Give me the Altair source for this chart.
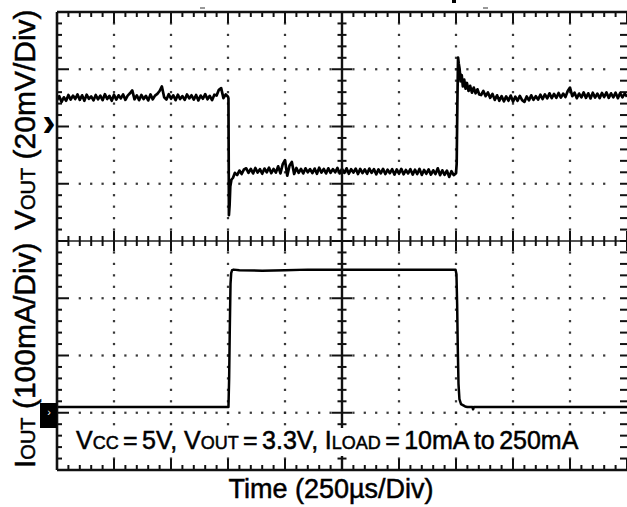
import altair as alt
import pandas as pd

# ---------------- scope settings ----------------
T_DIV_US = 250      # time per division
V_DIV_MV = 20       # Vout per division
I_DIV_MA = 100      # Iout per division
N_XDIV, N_YDIV = 10, 8
VOUT_REF_DIV = 6    # Vout channel marker (division from bottom)
IOUT_REF_DIV = 1    # Iout channel marker (division from bottom)

# ---------------- Vout trace (mV relative to channel marker) ----------------
vout_pre_start, vout_pre_step = 0, 10
vout_pre = [9.2, 10.6, 8.6, 10.2, 9.0, 11.0, 9.4, 10.8, 9.6, 11.2,
            9.3, 10.9, 9.0, 11.1, 9.7, 10.5, 9.1, 11.0, 9.5, 10.8,
            9.2, 11.3, 9.6, 10.7, 9.0, 11.1, 9.4, 10.9, 9.8, 11.2,
            9.3, 10.8, 11.6, 12.6, 9.5, 10.9, 9.2, 11.0, 9.6, 10.7,
            9.1, 11.2, 9.5, 10.8, 11.4, 12.4, 14.0, 10.2, 9.4, 11.3,
            9.7, 10.9, 9.2, 11.1, 9.6, 10.6, 9.3, 11.2, 9.8, 10.9,
            9.4, 11.0, 9.1, 10.8, 9.7, 11.3, 9.5, 10.7, 9.2, 11.1,
            10.8, 12.8, 13.4, 9.9, 11.2, 10.4]
vout_fall_t = [752, 754, 757, 760, 765, 772, 780, 790, 800, 810, 820]
vout_fall_mv = [9.8, -31.0, -27.5, -21.0, -18.6, -17.9, -16.2, -17.0, -15.4, -16.6, -15.0]
vout_mid_start, vout_mid_step = 830, 10
vout_mid = [-14.6, -16.2, -14.8, -16.4, -14.5, -16.1, -14.9, -16.5, -14.7, -16.0,
            -14.4, -16.3, -14.8, -16.1, -13.9, -16.4, -13.2, -11.8, -17.2, -13.6,
            -12.4, -16.6, -14.5, -16.2, -14.8, -16.4, -14.6, -16.0, -14.9, -16.3,
            -14.7, -16.5, -14.4, -16.1, -14.8, -16.4, -14.6, -16.2, -14.9, -16.0,
            -14.5, -16.4, -14.8, -16.2, -14.6, -16.5, -14.9, -16.1, -14.7, -16.6,
            -14.8, -16.3, -15.0, -16.5, -14.7, -16.2, -14.9, -16.7, -15.0, -16.4,
            -14.8, -16.6, -15.1, -16.3, -14.9, -16.8, -15.0, -16.5, -14.8, -16.7,
            -15.2, -16.4, -14.9, -16.8, -15.1, -16.6, -14.8, -16.9, -15.2, -16.5,
            -15.0, -16.8, -15.3, -16.6, -14.6, -17.0, -15.3, -16.9, -15.4, -17.6,
            -15.6, -17.0]
vout_rise_t = [1750, 1753, 1756, 1759, 1762, 1766, 1770, 1775, 1780, 1786,
               1792, 1798, 1805, 1812, 1820, 1828, 1836, 1844, 1852]
vout_rise_mv = [-16.3, -13.0, 8.0, 24.1, 22.0, 20.0, 15.8, 18.0, 14.0, 16.4,
                13.2, 15.2, 12.4, 14.2, 11.8, 13.6, 11.6, 13.0, 11.2]
vout_post_start, vout_post_step = 1860, 10
vout_post = [11.0, 12.4, 10.6, 11.9, 10.0, 11.4, 9.3, 10.9, 9.0, 10.6,
             8.8, 10.5, 9.0, 10.8, 8.7, 10.4, 9.0, 10.7, 9.2, 8.6,
             10.5, 9.1, 10.9, 9.3, 10.6, 9.4, 11.1, 9.6, 11.2, 9.8,
             11.6, 9.9, 11.4, 10.0, 11.7, 10.1, 11.5, 10.3, 12.4, 13.6,
             10.6, 11.8, 9.9, 11.5, 10.2, 11.9, 10.0, 11.6, 9.8, 11.8,
             10.1, 11.5, 9.9, 11.7, 10.3, 11.9, 10.0, 11.6, 10.2, 11.8,
             9.9, 11.7, 10.2, 11.5, 10.4]

# ---------------- Iout trace (mA) ----------------
iout_t = [0, 752, 755, 758, 761, 764, 768, 775, 800, 900, 1000, 1100, 1400,
          1748, 1752, 1755, 1758, 1761, 1765, 1772, 1790, 1800, 1822, 1825, 1828, 2500]
iout_ma = [10, 10, 60, 150, 225, 244, 249, 250, 249, 248, 249, 250, 250,
           250, 242, 190, 110, 50, 24, 15, 11, 10, 10, 6, 10, 10]

# ---------------- build tables ----------------
def seg(start, step, vals):
    return [(start + i * step, v) for i, v in enumerate(vals)]

vrows = (seg(vout_pre_start, vout_pre_step, vout_pre)
         + list(zip(vout_fall_t, vout_fall_mv))
         + seg(vout_mid_start, vout_mid_step, vout_mid)
         + list(zip(vout_rise_t, vout_rise_mv))
         + seg(vout_post_start, vout_post_step, vout_post))
vout_df = pd.DataFrame(vrows, columns=["t", "mv"])
vout_df["order"] = range(len(vout_df))
iout_df = pd.DataFrame({"t": iout_t, "ma": iout_ma})
iout_df["order"] = range(len(iout_df))

W, H = 570, 458
PX_X = N_XDIV / W
PX_Y = N_YDIV / H

XS = alt.Scale(domain=[0, N_XDIV], nice=False, zero=False)
YS = alt.Scale(domain=[0, N_YDIV], nice=False, zero=False)

def X(f):
    return alt.X(f, type="quantitative", scale=XS, axis=None)

def Y(f):
    return alt.Y(f, type="quantitative", scale=YS, axis=None)

# graticule
minor_x = [round(i * 0.2, 1) for i in range(N_XDIV * 5 + 1)]
minor_y = [round(i * 0.2, 1) for i in range(N_YDIV * 5 + 1)]
dots = []
for gx in [1, 2, 3, 4, 6, 7, 8, 9]:
    for y in minor_y:
        if 0 < y < N_YDIV and y != 4:
            dots.append({"x": gx, "y": y})
for gy in [1, 2, 3, 5, 6, 7]:
    for x in minor_x:
        if 0.3 < x < N_XDIV - 0.3 and x != 5:
            dots.append({"x": x, "y": gy})
dots_df = pd.DataFrame(dots)

ticks = []
for x in minor_x:
    major = abs(x - round(x)) < 1e-6
    L = 11 if major else 5
    C = 10 if major else 5
    ticks.append({"x": x, "x2": x, "y": N_YDIV, "y2": N_YDIV - L * PX_Y})
    ticks.append({"x": x, "x2": x, "y": 0, "y2": L * PX_Y})
    ticks.append({"x": x, "x2": x, "y": 4 - C * PX_Y, "y2": 4 + C * PX_Y})
for y in minor_y:
    major = abs(y - round(y)) < 1e-6
    L = 12 if major else 5
    C = 10 if major else 4.5
    ticks.append({"x": 0, "x2": L * PX_X, "y": y, "y2": y})
    ticks.append({"x": N_XDIV, "x2": N_XDIV - 7 * PX_X, "y": y, "y2": y})
    ticks.append({"x": 5 - C * PX_X, "x2": 5 + C * PX_X, "y": y, "y2": y})
ticks_df = pd.DataFrame(ticks)

frame_df = pd.DataFrame([
    {"x": 0, "x2": 0, "y": 0, "y2": N_YDIV, "w": 2.6},
    {"x": 0, "x2": N_XDIV, "y": 0, "y2": 0, "w": 2.6},
    {"x": 0, "x2": N_XDIV, "y": N_YDIV, "y2": N_YDIV, "w": 2.6},
    {"x": 5, "x2": 5, "y": 0, "y2": N_YDIV, "w": 2.4},
])
hmid_df = pd.DataFrame([{"x": 0, "x2": N_XDIV, "y": 4, "y2": 4}])

dots_layer = alt.Chart(dots_df).mark_square(size=5, color="#222", opacity=0.9).encode(
    x=X("x"), y=Y("y"))
ticks_layer = alt.Chart(ticks_df).mark_rule(color="#111", strokeWidth=2).encode(
    x=X("x"), x2=alt.X2("x2"), y=Y("y"), y2=alt.Y2("y2"))
hmid_layer = alt.Chart(hmid_df).mark_rule(color="#555", strokeWidth=2).encode(
    x=X("x"), x2=alt.X2("x2"), y=Y("y"), y2=alt.Y2("y2"))
frame_layer = alt.Chart(frame_df).mark_rule(color="#111").encode(
    x=X("x"), x2=alt.X2("x2"), y=Y("y"), y2=alt.Y2("y2"),
    strokeWidth=alt.StrokeWidth("w:Q", scale=None))

vout_layer = alt.Chart(vout_df).transform_calculate(
    xd=f"datum.t / {T_DIV_US}", yd=f"{VOUT_REF_DIV} + datum.mv / {V_DIV_MV}"
).mark_line(color="#000", strokeWidth=2.7, strokeJoin="round").encode(
    x=X("xd"), y=Y("yd"), order="order:Q")
iout_layer = alt.Chart(iout_df).transform_calculate(
    xd=f"datum.t / {T_DIV_US}", yd=f"{IOUT_REF_DIV} + datum.ma / {I_DIV_MA}"
).mark_line(color="#000", strokeWidth=2.5, strokeJoin="round").encode(
    x=X("xd"), y=Y("yd"), order="order:Q")

# ---------------- text ----------------
FONT = "Liberation Sans"
AW = {' ': 278, '=': 584, ',': 278, '.': 278, '(': 333, ')': 333, '/': 278,
      '0': 556, '1': 556, '2': 556, '3': 556, '5': 556,
      'V': 667, 'C': 722, 'O': 778, 'U': 722, 'T': 611, 'I': 278, 'L': 556,
      'A': 667, 'D': 722, 'm': 833, 't': 278, 'o': 556, 'i': 222, 'v': 500,
      's': 500, 'e': 556, 'µ': 576}

def tw(s, size):
    return sum(AW.get(c, 556) for c in s) * size / 1000.0

OX, OY = 57, 12   # plot origin in page pixels
TXT = dict(font=FONT, color="#000", stroke="#000", strokeWidth=0.5)

def run_h(tokens, x0, ybase, gap):
    """tokens: list of (text, size, joined) - joined=True means no gap before."""
    layers = []
    x = x0
    for i, (s, size, joined) in enumerate(tokens):
        if i > 0 and not joined:
            x += gap
        layers.append(alt.Chart().mark_text(
            text=s, fontSize=size, align="left", baseline="alphabetic", **TXT
        ).encode(x=alt.value(x - OX), y=alt.value(ybase - OY)))
        x += tw(s, size)
    return layers

def run_v(pieces, xbase, y0):
    layers = []
    y = y0
    for txt, size in pieces:
        lead = len(txt) - len(txt.lstrip(' '))
        s = txt.strip(' ')
        py = y - tw(' ' * lead, size)
        layers.append(alt.Chart().mark_text(
            text=s, fontSize=size, angle=270, align="left", baseline="alphabetic", **TXT
        ).encode(x=alt.value(xbase - OX), y=alt.value(py - OY)))
        y -= tw(txt, size)
    return layers

BIG, SMALL = 25, 18
note_tokens = [("V", BIG, False), ("CC", SMALL, True), ("=", BIG, False), ("5V,", BIG, False),
               ("V", BIG, False), ("OUT", SMALL, True), ("=", BIG, False), ("3.3V,", BIG, False),
               ("I", BIG, False), ("LOAD", SMALL, True), ("=", BIG, False), ("10mA", BIG, False),
               ("to", BIG, False), ("250mA", BIG, False)]
note = run_h(note_tokens, 76, 449, 4.4)

note_bg = alt.Chart().mark_rect(color="#fff").encode(
    x=alt.value(67 - OX), x2=alt.value(588 - OX), y=alt.value(428 - OY), y2=alt.value(456 - OY))

LB, LS = 30, 20
vlab = run_v([("V", LB), ("OUT", LS), (" (20mV/Div)", LB)], 35, 230)
ilab = run_v([("I", LB), ("OUT", LS), (" (100mA/Div)", LB)], 35, 468)

xlab = alt.Chart().mark_text(
    text="Time (250µs/Div)", fontSize=27, align="center", baseline="alphabetic", **TXT
).encode(x=alt.value(331 - OX), y=alt.value(498 - OY))

# channel markers
iref_box = alt.Chart().mark_rect(color="#000").encode(
    x=alt.value(40 - OX), x2=alt.value(57 - OX), y=alt.value(403 - OY), y2=alt.value(428 - OY))
iref_arrow = alt.Chart().mark_text(text="›", fontSize=11, color="#fff", font=FONT,
                                   align="center", baseline="middle").encode(
    x=alt.value(49 - OX), y=alt.value(413 - OY))
vref_arrow = alt.Chart().mark_text(text="›", fontSize=40, fontWeight="bold", color="#000",
                                   font=FONT, align="center", baseline="middle").encode(
    x=alt.value(49 - OX), y=alt.value(124 - OY))
trig = alt.Chart().mark_rect(color="#000").encode(
    x=alt.value(452 - OX), x2=alt.value(456 - OX), y=alt.value(0 - OY), y2=alt.value(3 - OY))
dash1 = alt.Chart().mark_rule(color="#333", strokeWidth=1).encode(
    x=alt.value(200 - OX), x2=alt.value(205 - OX), y=alt.value(8 - OY))
dash2 = alt.Chart().mark_rule(color="#333", strokeWidth=1).encode(
    x=alt.value(483 - OX), x2=alt.value(488 - OX), y=alt.value(8 - OY))

chart = alt.layer(
    dots_layer, hmid_layer, ticks_layer, vout_layer, iout_layer, frame_layer, note_bg,
    *note, *vlab, *ilab, xlab, iref_box, iref_arrow, vref_arrow, trig, dash1, dash2
).properties(
    width=W, height=H,
    padding={"left": OX, "top": OY, "right": 0, "bottom": 507 - OY - H},
    autosize=alt.AutoSizeParams(type="none"),
    background="#ffffff",
).configure_view(stroke=None)

chart.save("out.html", embed_options={"renderer": "svg", "actions": False})
